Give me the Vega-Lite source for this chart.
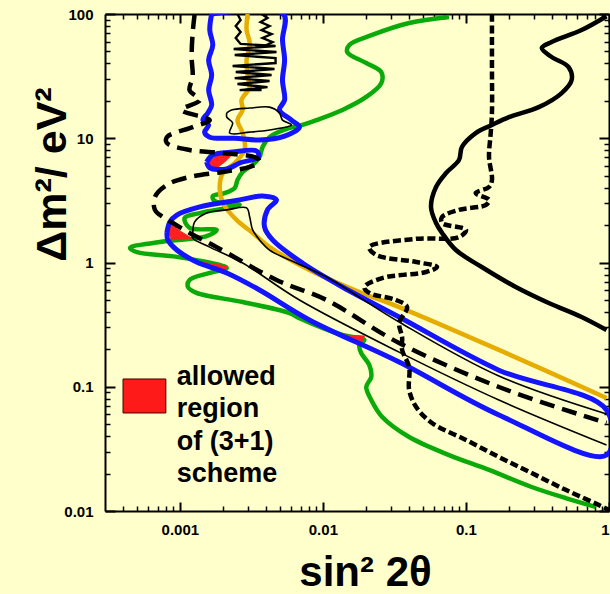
{
"$schema": "https://vega.github.io/schema/vega-lite/v6.json",
"width": 504, "height": 497,
"autosize": {"type": "none"},
"padding": {"left": 105, "top": 14, "right": 1, "bottom": 83},
"background": "#FFFFCC",
"config": {"view": {"stroke": null}, "axis": {"grid": false, "domainColor": "#000", "tickColor": "#000", "labelColor": "#000", "titleColor": "#000", "labelFont": "Liberation Sans", "titleFont": "Liberation Sans", "labelFontWeight": "bold", "titleFontWeight": "bold"}},
"resolve": {"axis": {"x": "independent", "y": "independent"}},
"data": {"values": [
{"k":"green","s":"g","i":1,"x":0.0761,"y":94.6},{"k":"green","s":"g","i":2,"x":0.0401,"y":84.6},{"k":"green","s":"g","i":3,"x":0.0221,"y":67.8},{"k":"green","s":"g","i":4,"x":0.0153,"y":56.3},{"k":"green","s":"g","i":5,"x":0.0148,"y":49.4},{"k":"green","s":"g","i":6,"x":0.0201,"y":40.3},{"k":"green","s":"g","i":7,"x":0.0256,"y":34.1},{"k":"green","s":"g","i":8,"x":0.0256,"y":27.8},{"k":"green","s":"g","i":9,"x":0.0201,"y":21.5},{"k":"green","s":"g","i":10,"x":0.0137,"y":16.9},{"k":"green","s":"g","i":11,"x":0.00901,"y":14.0},{"k":"green","s":"g","i":12,"x":0.00686,"y":12.6},{"k":"green","s":"g","i":13,"x":0.00585,"y":12.1},{"k":"green","s":"g","i":14,"x":0.00424,"y":10.2},{"k":"green","s":"g","i":15,"x":0.00379,"y":8.51},{"k":"green","s":"g","i":16,"x":0.00361,"y":7.07},{"k":"green","s":"g","i":17,"x":0.00323,"y":6.10},{"k":"green","s":"g","i":18,"x":0.00275,"y":5.35},{"k":"green","s":"g","i":19,"x":0.00253,"y":4.61},{"k":"green","s":"g","i":20,"x":0.00242,"y":3.98},{"k":"green","s":"g","i":21,"x":0.00206,"y":3.62},{"k":"green","s":"g","i":22,"x":0.0017,"y":3.43},{"k":"green","s":"g","i":23,"x":0.00175,"y":3.13},{"k":"green","s":"g","i":24,"x":0.00262,"y":2.91},{"k":"green","s":"g","i":25,"x":0.00138,"y":2.50},{"k":"green","s":"g","i":26,"x":0.00108,"y":2.28},{"k":"green","s":"g","i":27,"x":0.00117,"y":1.90},{"k":"green","s":"g","i":28,"x":0.00181,"y":1.83},{"k":"green","s":"g","i":29,"x":0.00154,"y":1.63},{"k":"green","s":"g","i":30,"x":0.000726,"y":1.46},{"k":"green","s":"g","i":31,"x":0.000449,"y":1.31},{"k":"green","s":"g","i":32,"x":0.000502,"y":1.21},{"k":"green","s":"g","i":33,"x":0.000953,"y":1.11},{"k":"green","s":"g","i":34,"x":0.0019,"y":0.955},{"k":"green","s":"g","i":35,"x":0.00213,"y":0.903},{"k":"green","s":"g","i":36,"x":0.00162,"y":0.824},{"k":"green","s":"g","i":37,"x":0.00117,"y":0.723},{"k":"green","s":"g","i":38,"x":0.00114,"y":0.635},{"k":"green","s":"g","i":39,"x":0.00131,"y":0.569},{"k":"green","s":"g","i":40,"x":0.00275,"y":0.481},{"k":"green","s":"g","i":41,"x":0.00585,"y":0.392},{"k":"green","s":"g","i":42,"x":0.00686,"y":0.357},{"k":"green","s":"g","i":43,"x":0.0137,"y":0.261},{"k":"green","s":"g","i":44,"x":0.0195,"y":0.238},{"k":"green","s":"g","i":45,"x":0.018,"y":0.217},{"k":"green","s":"g","i":46,"x":0.0185,"y":0.187},{"k":"green","s":"g","i":47,"x":0.0211,"y":0.150},{"k":"green","s":"g","i":48,"x":0.0218,"y":0.120},{"k":"green","s":"g","i":49,"x":0.0201,"y":0.0995},{"k":"green","s":"g","i":50,"x":0.0218,"y":0.0782},{"k":"green","s":"g","i":51,"x":0.026,"y":0.0571},{"k":"green","s":"g","i":52,"x":0.0401,"y":0.0394},{"k":"green","s":"g","i":53,"x":0.0762,"y":0.0282},{"k":"green","s":"g","i":54,"x":0.145,"y":0.0214},{"k":"green","s":"g","i":55,"x":0.288,"y":0.0156},{"k":"green","s":"g","i":56,"x":0.498,"y":0.0127},{"k":"green","s":"g","i":57,"x":0.805,"y":0.0108},

{"k":"orange","s":"o","i":1,"x":0.00298,"y":100},{"k":"orange","s":"o","i":2,"x":0.00293,"y":74.3},{"k":"orange","s":"o","i":3,"x":0.00308,"y":58.5},{"k":"orange","s":"o","i":4,"x":0.00293,"y":42.7},{"k":"orange","s":"o","i":5,"x":0.00298,"y":31.1},{"k":"orange","s":"o","i":6,"x":0.00308,"y":25.8},{"k":"orange","s":"o","i":7,"x":0.0027,"y":20.3},{"k":"orange","s":"o","i":8,"x":0.00275,"y":16.9},{"k":"orange","s":"o","i":9,"x":0.00253,"y":14.0},{"k":"orange","s":"o","i":10,"x":0.00275,"y":11.0},{"k":"orange","s":"o","i":11,"x":0.00284,"y":8.04},{"k":"orange","s":"o","i":12,"x":0.00242,"y":6.32},{"k":"orange","s":"o","i":13,"x":0.002,"y":5.25},{"k":"orange","s":"o","i":14,"x":0.0019,"y":4.05},{"k":"orange","s":"o","i":15,"x":0.002,"y":3.02},{"k":"orange","s":"o","i":16,"x":0.00249,"y":2.20},{"k":"orange","s":"o","i":17,"x":0.00323,"y":1.73},{"k":"orange","s":"o","i":18,"x":0.00424,"y":1.33},{"k":"orange","s":"o","i":19,"x":0.00805,"y":0.871},{"k":"orange","s":"o","i":20,"x":0.018,"y":0.579},{"k":"orange","s":"o","i":21,"x":0.0341,"y":0.438},{"k":"orange","s":"o","i":22,"x":0.170,"y":0.198},{"k":"orange","s":"o","i":23,"x":0.961,"y":0.0812},

{"k":"red","s":"r1","i":1,"x":0.00157,"y":6.32},{"k":"red","s":"r1","i":2,"x":0.00175,"y":7.07},{"k":"red","s":"r1","i":3,"x":0.00234,"y":7.47},{"k":"red","s":"r1","i":4,"x":0.00206,"y":6.44},{"k":"red","s":"r1","i":5,"x":0.00181,"y":5.77},{"k":"red","s":"r1","i":6,"x":0.00162,"y":5.98},
{"k":"red","s":"r2","i":1,"x":0.000825,"y":2.12},{"k":"red","s":"r2","i":2,"x":0.00103,"y":1.76},{"k":"red","s":"r2","i":3,"x":0.00121,"y":1.57},{"k":"red","s":"r2","i":4,"x":0.00088,"y":1.52},{"k":"red","s":"r2","i":5,"x":0.000825,"y":1.76},
{"k":"red","s":"r3","i":1,"x":0.00138,"y":1.01},{"k":"red","s":"r3","i":2,"x":0.00213,"y":0.937},{"k":"red","s":"r3","i":3,"x":0.00206,"y":0.839},{"k":"red","s":"r3","i":4,"x":0.00162,"y":0.920},
{"k":"red","s":"r4","i":1,"x":0.0137,"y":0.261},{"k":"red","s":"r4","i":2,"x":0.0195,"y":0.256},{"k":"red","s":"r4","i":3,"x":0.0185,"y":0.225},{"k":"red","s":"r4","i":4,"x":0.0158,"y":0.242},

{"k":"blue","s":"b1","i":1,"x":0.00167,"y":100},{"k":"blue","s":"b1","i":2,"x":0.00162,"y":74.3},{"k":"blue","s":"b1","i":3,"x":0.0017,"y":56.3},{"k":"blue","s":"b1","i":4,"x":0.00159,"y":42.7},{"k":"blue","s":"b1","i":5,"x":0.00167,"y":32.3},{"k":"blue","s":"b1","i":6,"x":0.00159,"y":24.4},{"k":"blue","s":"b1","i":7,"x":0.00167,"y":18.5},{"k":"blue","s":"b1","i":8,"x":0.00157,"y":16.0},{"k":"blue","s":"b1","i":9,"x":0.00145,"y":14.0},{"k":"blue","s":"b1","i":10,"x":0.00159,"y":12.8},{"k":"blue","s":"b1","i":11,"x":0.00149,"y":11.2},{"k":"blue","s":"b1","i":12,"x":0.00162,"y":10.2},{"k":"blue","s":"b1","i":13,"x":0.00242,"y":10.0},{"k":"blue","s":"b1","i":14,"x":0.00361,"y":9.68},{"k":"blue","s":"b1","i":15,"x":0.0054,"y":10.4},{"k":"blue","s":"b1","i":16,"x":0.00686,"y":12.3},{"k":"blue","s":"b1","i":17,"x":0.00603,"y":14.0},{"k":"blue","s":"b1","i":18,"x":0.00497,"y":16.9},{"k":"blue","s":"b1","i":19,"x":0.0054,"y":20.3},{"k":"blue","s":"b1","i":20,"x":0.00522,"y":29.4},{"k":"blue","s":"b1","i":21,"x":0.0054,"y":42.7},{"k":"blue","s":"b1","i":22,"x":0.00522,"y":61.8},{"k":"blue","s":"b1","i":23,"x":0.0053,"y":100},{"k":"blue","s":"b1","i":24,"x":0.00167,"y":100},
{"k":"blue","s":"b2","i":1,"x":0.00154,"y":6.44},{"k":"blue","s":"b2","i":2,"x":0.0017,"y":7.33},{"k":"blue","s":"b2","i":3,"x":0.00234,"y":7.75},{"k":"blue","s":"b2","i":4,"x":0.00344,"y":7.90},{"k":"blue","s":"b2","i":5,"x":0.00355,"y":7.07},{"k":"blue","s":"b2","i":6,"x":0.00262,"y":6.32},{"k":"blue","s":"b2","i":7,"x":0.00213,"y":5.66},{"k":"blue","s":"b2","i":8,"x":0.00162,"y":5.77},{"k":"blue","s":"b2","i":9,"x":0.00154,"y":6.44},
{"k":"blue","s":"b3","i":1,"x":0.000812,"y":1.73},{"k":"blue","s":"b3","i":2,"x":0.000852,"y":2.12},{"k":"blue","s":"b3","i":3,"x":0.000953,"y":2.41},{"k":"blue","s":"b3","i":4,"x":0.00138,"y":2.80},{"k":"blue","s":"b3","i":5,"x":0.00262,"y":3.19},{"k":"blue","s":"b3","i":6,"x":0.00379,"y":3.43},{"k":"blue","s":"b3","i":7,"x":0.00474,"y":3.19},{"k":"blue","s":"b3","i":8,"x":0.0041,"y":2.65},{"k":"blue","s":"b3","i":9,"x":0.00391,"y":1.93},{"k":"blue","s":"b3","i":10,"x":0.00445,"y":1.52},{"k":"blue","s":"b3","i":11,"x":0.00719,"y":0.991},{"k":"blue","s":"b3","i":12,"x":0.0137,"y":0.635},{"k":"blue","s":"b3","i":13,"x":0.0341,"y":0.364},{"k":"blue","s":"b3","i":14,"x":0.170,"y":0.136},{"k":"blue","s":"b3","i":15,"x":0.961,"y":0.0650},{"k":"blue","s":"b3","i":16,"x":0.961,"y":0.0282},{"k":"blue","s":"b3","i":17,"x":0.170,"y":0.0593},{"k":"blue","s":"b3","i":18,"x":0.0341,"y":0.158},{"k":"blue","s":"b3","i":19,"x":0.00805,"y":0.345},{"k":"blue","s":"b3","i":20,"x":0.00361,"y":0.601},{"k":"blue","s":"b3","i":21,"x":0.00213,"y":0.824},{"k":"blue","s":"b3","i":22,"x":0.00131,"y":1.01},{"k":"blue","s":"b3","i":23,"x":0.000953,"y":1.26},{"k":"blue","s":"b3","i":24,"x":0.000825,"y":1.52},{"k":"blue","s":"b3","i":25,"x":0.000812,"y":1.73},

{"k":"thin","s":"t1","i":1,"x":0.961,"y":0.0604},{"k":"thin","s":"t1","i":2,"x":0.170,"y":0.122},{"k":"thin","s":"t1","i":3,"x":0.0341,"y":0.332},{"k":"thin","s":"t1","i":4,"x":0.0106,"y":0.764},{"k":"thin","s":"t1","i":5,"x":0.00653,"y":0.991},{"k":"thin","s":"t1","i":6,"x":0.00424,"y":1.26},{"k":"thin","s":"t1","i":7,"x":0.00361,"y":1.52},{"k":"thin","s":"t1","i":8,"x":0.00323,"y":1.83},{"k":"thin","s":"t1","i":9,"x":0.00308,"y":2.32},{"k":"thin","s":"t1","i":10,"x":0.00293,"y":2.75},{"k":"thin","s":"t1","i":11,"x":0.00213,"y":2.65},{"k":"thin","s":"t1","i":12,"x":0.00154,"y":2.50},{"k":"thin","s":"t1","i":13,"x":0.00127,"y":2.12},{"k":"thin","s":"t1","i":14,"x":0.00123,"y":1.70},{"k":"thin","s":"t1","i":15,"x":0.00123,"y":1.57},{"k":"thin","s":"t1","i":16,"x":0.00162,"y":1.33},{"k":"thin","s":"t1","i":17,"x":0.00275,"y":0.991},{"k":"thin","s":"t1","i":18,"x":0.00686,"y":0.499},{"k":"thin","s":"t1","i":19,"x":0.0341,"y":0.190},{"k":"thin","s":"t1","i":20,"x":0.170,"y":0.0782},{"k":"thin","s":"t1","i":21,"x":0.961,"y":0.0340},
{"k":"thin","s":"t2","i":1,"x":0.00213,"y":16.0},{"k":"thin","s":"t2","i":2,"x":0.0023,"y":16.9},{"k":"thin","s":"t2","i":3,"x":0.00308,"y":17.5},{"k":"thin","s":"t2","i":4,"x":0.00424,"y":17.8},{"k":"thin","s":"t2","i":5,"x":0.00497,"y":16.0},{"k":"thin","s":"t2","i":6,"x":0.00522,"y":14.0},{"k":"thin","s":"t2","i":7,"x":0.00603,"y":12.8},{"k":"thin","s":"t2","i":8,"x":0.00424,"y":11.65},{"k":"thin","s":"t2","i":9,"x":0.00308,"y":11.2},{"k":"thin","s":"t2","i":10,"x":0.00223,"y":11.0},{"k":"thin","s":"t2","i":11,"x":0.00234,"y":13.3},{"k":"thin","s":"t2","i":12,"x":0.00213,"y":14.8},{"k":"thin","s":"t2","i":13,"x":0.00213,"y":16.0},

{"k":"scr","s":"c1","i":1,"x":0.00253,"y":100},{"k":"scr","s":"c1","i":2,"x":0.00266,"y":89.5},{"k":"scr","s":"c1","i":3,"x":0.00246,"y":80.1},{"k":"scr","s":"c1","i":4,"x":0.00266,"y":71.6},{"k":"scr","s":"c1","i":5,"x":0.00246,"y":64.1},{"k":"scr","s":"c1","i":6,"x":0.00266,"y":57.4},{"k":"scr","s":"c1","i":7,"x":0.00467,"y":55.3},{"k":"scr","s":"c1","i":8,"x":0.00238,"y":52.3},{"k":"scr","s":"c1","i":9,"x":0.00474,"y":49.4},{"k":"scr","s":"c1","i":10,"x":0.00242,"y":46.8},{"k":"scr","s":"c1","i":11,"x":0.00467,"y":44.2},{"k":"scr","s":"c1","i":12,"x":0.00467,"y":40.3},{"k":"scr","s":"c1","i":13,"x":0.00234,"y":38.2},{"k":"scr","s":"c1","i":14,"x":0.00459,"y":36.1},{"k":"scr","s":"c1","i":15,"x":0.00246,"y":34.1},{"k":"scr","s":"c1","i":16,"x":0.00438,"y":32.3},{"k":"scr","s":"c1","i":17,"x":0.00242,"y":30.5},{"k":"scr","s":"c1","i":18,"x":0.00424,"y":28.9},{"k":"scr","s":"c1","i":19,"x":0.00253,"y":27.3},{"k":"scr","s":"c1","i":20,"x":0.0041,"y":25.8},{"k":"scr","s":"c1","i":21,"x":0.00262,"y":24.4},{"k":"scr","s":"c1","i":22,"x":0.00373,"y":24.4},
{"k":"scr","s":"c2","i":1,"x":0.00373,"y":100},{"k":"scr","s":"c2","i":2,"x":0.0041,"y":92.9},{"k":"scr","s":"c2","i":3,"x":0.00367,"y":86.2},{"k":"scr","s":"c2","i":4,"x":0.00424,"y":80.1},{"k":"scr","s":"c2","i":5,"x":0.00373,"y":74.3},{"k":"scr","s":"c2","i":6,"x":0.00438,"y":69.0},{"k":"scr","s":"c2","i":7,"x":0.00379,"y":64.1},{"k":"scr","s":"c2","i":8,"x":0.00445,"y":59.5},{"k":"scr","s":"c2","i":9,"x":0.00391,"y":55.3},

{"k":"dash","s":"d","i":1,"x":0.00127,"y":100},{"k":"dash","s":"d","i":2,"x":0.00123,"y":70.3},{"k":"dash","s":"d","i":3,"x":0.00121,"y":45.1},{"k":"dash","s":"d","i":4,"x":0.00123,"y":31.1},{"k":"dash","s":"d","i":5,"x":0.00117,"y":24.4},{"k":"dash","s":"d","i":6,"x":0.00138,"y":20.3},{"k":"dash","s":"d","i":7,"x":0.00103,"y":16.9},{"k":"dash","s":"d","i":8,"x":0.00162,"y":14.0},{"k":"dash","s":"d","i":9,"x":0.00123,"y":12.3},{"k":"dash","s":"d","i":10,"x":0.000812,"y":10.2},{"k":"dash","s":"d","i":11,"x":0.000812,"y":9.16},{"k":"dash","s":"d","i":12,"x":0.00117,"y":8.04},{"k":"dash","s":"d","i":13,"x":0.002,"y":7.61},{"k":"dash","s":"d","i":14,"x":0.00344,"y":6.94},{"k":"dash","s":"d","i":15,"x":0.00361,"y":6.44},{"k":"dash","s":"d","i":16,"x":0.00308,"y":5.88},{"k":"dash","s":"d","i":17,"x":0.002,"y":5.35},{"k":"dash","s":"d","i":18,"x":0.00117,"y":4.88},{"k":"dash","s":"d","i":19,"x":0.000812,"y":4.21},{"k":"dash","s":"d","i":20,"x":0.00067,"y":3.37},{"k":"dash","s":"d","i":21,"x":0.00067,"y":2.65},{"k":"dash","s":"d","i":22,"x":0.000762,"y":2.32},{"k":"dash","s":"d","i":23,"x":0.000894,"y":2.08},{"k":"dash","s":"d","i":24,"x":0.00117,"y":1.73},{"k":"dash","s":"d","i":25,"x":0.00181,"y":1.33},{"k":"dash","s":"d","i":26,"x":0.00474,"y":0.723},{"k":"dash","s":"d","i":27,"x":0.0106,"y":0.499},{"k":"dash","s":"d","i":28,"x":0.0341,"y":0.225},{"k":"dash","s":"d","i":29,"x":0.170,"y":0.0995},{"k":"dash","s":"d","i":30,"x":0.961,"y":0.0511},

{"k":"sdash","s":"sd","i":1,"x":0.152,"y":100},{"k":"sdash","s":"sd","i":2,"x":0.152,"y":37.4},{"k":"sdash","s":"sd","i":3,"x":0.152,"y":16.0},{"k":"sdash","s":"sd","i":4,"x":0.149,"y":11.0},{"k":"sdash","s":"sd","i":5,"x":0.145,"y":7.07},{"k":"sdash","s":"sd","i":6,"x":0.152,"y":4.61},{"k":"sdash","s":"sd","i":7,"x":0.145,"y":4.05},{"k":"sdash","s":"sd","i":8,"x":0.117,"y":3.62},{"k":"sdash","s":"sd","i":9,"x":0.145,"y":3.19},{"k":"sdash","s":"sd","i":10,"x":0.138,"y":2.91},{"k":"sdash","s":"sd","i":11,"x":0.0894,"y":2.65},{"k":"sdash","s":"sd","i":12,"x":0.0681,"y":2.32},{"k":"sdash","s":"sd","i":13,"x":0.0681,"y":2.08},{"k":"sdash","s":"sd","i":14,"x":0.1,"y":1.83},{"k":"sdash","s":"sd","i":15,"x":0.0894,"y":1.60},{"k":"sdash","s":"sd","i":16,"x":0.0449,"y":1.55},{"k":"sdash","s":"sd","i":17,"x":0.0211,"y":1.33},{"k":"sdash","s":"sd","i":18,"x":0.0236,"y":1.15},{"k":"sdash","s":"sd","i":19,"x":0.0449,"y":1.01},{"k":"sdash","s":"sd","i":20,"x":0.0628,"y":0.920},{"k":"sdash","s":"sd","i":21,"x":0.0526,"y":0.839},{"k":"sdash","s":"sd","i":22,"x":0.026,"y":0.750},{"k":"sdash","s":"sd","i":23,"x":0.0195,"y":0.635},{"k":"sdash","s":"sd","i":24,"x":0.0211,"y":0.569},{"k":"sdash","s":"sd","i":25,"x":0.0325,"y":0.499},{"k":"sdash","s":"sd","i":26,"x":0.0388,"y":0.438},{"k":"sdash","s":"sd","i":27,"x":0.0341,"y":0.326},{"k":"sdash","s":"sd","i":28,"x":0.0358,"y":0.251},{"k":"sdash","s":"sd","i":29,"x":0.0358,"y":0.198},{"k":"sdash","s":"sd","i":30,"x":0.0401,"y":0.144},{"k":"sdash","s":"sd","i":31,"x":0.0401,"y":0.0942},{"k":"sdash","s":"sd","i":32,"x":0.0449,"y":0.0687},{"k":"sdash","s":"sd","i":33,"x":0.0579,"y":0.0511},{"k":"sdash","s":"sd","i":34,"x":0.1,"y":0.0373},{"k":"sdash","s":"sd","i":35,"x":0.170,"y":0.0272},{"k":"sdash","s":"sd","i":36,"x":0.288,"y":0.0202},{"k":"sdash","s":"sd","i":37,"x":0.498,"y":0.0148},{"k":"sdash","s":"sd","i":38,"x":0.845,"y":0.0112},{"k":"sdash","s":"sd","i":39,"x":1,"y":0.0102},

{"k":"solid","s":"so","i":1,"x":0.961,"y":96},{"k":"solid","s":"so","i":2,"x":0.643,"y":74.3},{"k":"solid","s":"so","i":3,"x":0.397,"y":59.5},{"k":"solid","s":"so","i":4,"x":0.339,"y":53.2},{"k":"solid","s":"so","i":5,"x":0.397,"y":45.1},{"k":"solid","s":"so","i":6,"x":0.522,"y":37.4},{"k":"solid","s":"so","i":7,"x":0.548,"y":29.4},{"k":"solid","s":"so","i":8,"x":0.467,"y":23.1},{"k":"solid","s":"so","i":9,"x":0.323,"y":17.8},{"k":"solid","s":"so","i":10,"x":0.2,"y":14.8},{"k":"solid","s":"so","i":11,"x":0.152,"y":12.8},{"k":"solid","s":"so","i":12,"x":0.117,"y":11.0},{"k":"solid","s":"so","i":13,"x":0.0938,"y":8.51},{"k":"solid","s":"so","i":14,"x":0.0894,"y":6.68},{"k":"solid","s":"so","i":15,"x":0.0726,"y":5.25},{"k":"solid","s":"so","i":16,"x":0.0618,"y":4.05},{"k":"solid","s":"so","i":17,"x":0.057,"y":2.80},{"k":"solid","s":"so","i":18,"x":0.0618,"y":2.08},{"k":"solid","s":"so","i":19,"x":0.0681,"y":1.73},{"k":"solid","s":"so","i":20,"x":0.0851,"y":1.26},{"k":"solid","s":"so","i":21,"x":0.129,"y":0.920},{"k":"solid","s":"so","i":22,"x":0.223,"y":0.635},{"k":"solid","s":"so","i":23,"x":0.379,"y":0.472},{"k":"solid","s":"so","i":24,"x":0.643,"y":0.364},{"k":"solid","s":"so","i":25,"x":0.961,"y":0.286},

{"k":"leg","s":"l","i":1,"x":0.000401,"x2":0.000799,"y":0.1155,"y2":0.0615},
{"k":"txt","s":"t","i":1,"x":0.000953,"y":0.1033,"t":"allowed"},{"k":"txt","s":"t","i":2,"x":0.000953,"y":0.0571,"t":"region"},{"k":"txt","s":"t","i":3,"x":0.000953,"y":0.031,"t":"of (3+1)"},{"k":"txt","s":"t","i":4,"x":0.000953,"y":0.0171,"t":"scheme"}
]},
"layer": [
{"transform": [{"filter": "datum.k=='green'"}],
 "mark": {"type": "line", "color": "#0aaa0a", "strokeWidth": 4.5, "interpolate": "catmull-rom", "clip": true},
 "encoding": {
  "x": {"field": "x", "type": "quantitative", "scale": {"type": "log", "domain": [0.0003, 1], "nice": false}, "axis": {"orient": "bottom", "values": [0.0004,0.0005,0.0006,0.0007,0.0008,0.0009,0.002,0.003,0.004,0.005,0.006,0.007,0.008,0.009,0.02,0.03,0.04,0.05,0.06,0.07,0.08,0.09,0.2,0.3,0.4,0.5,0.6,0.7,0.8,0.9], "tickSize": -5, "tickWidth": 1.5, "labels": false, "domain": false, "title": null}},
  "y": {"field": "y", "type": "quantitative", "scale": {"type": "log", "domain": [0.01, 100], "nice": false}, "axis": {"orient": "left", "values": [0.02,0.03,0.04,0.05,0.06,0.07,0.08,0.09,0.2,0.3,0.4,0.5,0.6,0.7,0.8,0.9,2,3,4,5,6,7,8,9,20,30,40,50,60,70,80,90], "tickSize": -5, "tickWidth": 1.5, "labels": false, "domain": false, "title": null}},
  "detail": {"field": "s"}, "order": {"field": "i", "type": "quantitative"}}},
{"transform": [{"filter": "datum.k=='orange'"}],
 "mark": {"type": "line", "color": "#E6AD00", "strokeWidth": 4.5, "interpolate": "catmull-rom", "clip": true},
 "encoding": {
  "x": {"field": "x", "type": "quantitative", "scale": {"type": "log", "domain": [0.0003, 1], "nice": false}, "axis": {"orient": "top", "values": [0.001,0.01,0.1,1], "tickSize": -9, "tickWidth": 2, "domainWidth": 2, "labels": false, "title": null}},
  "y": {"field": "y", "type": "quantitative", "scale": {"type": "log", "domain": [0.01, 100], "nice": false}, "axis": {"orient": "right", "values": [0.01,0.1,1,10,100], "tickSize": -10, "tickWidth": 2, "domainWidth": 2, "labels": false, "title": null}},
  "detail": {"field": "s"}, "order": {"field": "i", "type": "quantitative"}}},
{"transform": [{"filter": "datum.k=='red'"}],
 "mark": {"type": "line", "filled": true, "fill": "#FF2020", "stroke": "#FF2020", "strokeWidth": 1, "clip": true},
 "encoding": {
  "x": {"field": "x", "type": "quantitative", "scale": {"type": "log", "domain": [0.0003, 1], "nice": false}, "axis": {"orient": "top", "values": [0.0004,0.0005,0.0006,0.0007,0.0008,0.0009,0.002,0.003,0.004,0.005,0.006,0.007,0.008,0.009,0.02,0.03,0.04,0.05,0.06,0.07,0.08,0.09,0.2,0.3,0.4,0.5,0.6,0.7,0.8,0.9], "tickSize": -5, "tickWidth": 1.5, "labels": false, "domain": false, "title": null}},
  "y": {"field": "y", "type": "quantitative", "scale": {"type": "log", "domain": [0.01, 100], "nice": false}, "axis": {"orient": "right", "values": [0.02,0.03,0.04,0.05,0.06,0.07,0.08,0.09,0.2,0.3,0.4,0.5,0.6,0.7,0.8,0.9,2,3,4,5,6,7,8,9,20,30,40,50,60,70,80,90], "tickSize": -5, "tickWidth": 1.5, "labels": false, "domain": false, "title": null}},
  "detail": {"field": "s"}, "order": {"field": "i", "type": "quantitative"}}},
{"transform": [{"filter": "datum.k=='blue'"}],
 "mark": {"type": "line", "color": "#1414FF", "strokeWidth": 5, "interpolate": "catmull-rom", "clip": true},
 "encoding": {
  "x": {"field": "x", "type": "quantitative", "scale": {"type": "log", "domain": [0.0003, 1], "nice": false}, "axis": {"orient": "bottom", "values": [0.001,0.01,0.1,1], "format": "~g", "tickSize": -9, "tickWidth": 2, "domainWidth": 2, "labelFontSize": 15, "labelPadding": 20, "labelFlush": true, "labelOverlap": false, "labelBound": false, "title": "sin² 2θ", "titleFontSize": 42, "titleX": 260, "titleY": 74, "titleAlign": "center", "titleBaseline": "alphabetic"}},
  "y": {"field": "y", "type": "quantitative", "scale": {"type": "log", "domain": [0.01, 100], "nice": false}, "axis": {"orient": "left", "values": [0.01,0.1,1,10,100], "format": "~g", "tickSize": -10, "tickWidth": 2, "domainWidth": 2, "labelFontSize": 15, "labelPadding": 22, "labelFlush": false, "labelOverlap": false, "labelBound": false, "title": "Δm²/ eV²", "titleFontSize": 43, "titleAngle": -90, "titleX": -40, "titleY": 160, "titleAlign": "center", "titleBaseline": "alphabetic"}},
  "detail": {"field": "s"}, "order": {"field": "i", "type": "quantitative"}}},
{"transform": [{"filter": "datum.k=='thin'"}],
 "mark": {"type": "line", "color": "#000", "strokeWidth": 1.6, "interpolate": "catmull-rom", "clip": true},
 "encoding": {
  "x": {"field": "x", "type": "quantitative", "scale": {"type": "log", "domain": [0.0003, 1], "nice": false}, "axis": null},
  "y": {"field": "y", "type": "quantitative", "scale": {"type": "log", "domain": [0.01, 100], "nice": false}, "axis": null},
  "detail": {"field": "s"}, "order": {"field": "i", "type": "quantitative"}}},
{"transform": [{"filter": "datum.k=='scr'"}],
 "mark": {"type": "line", "color": "#000", "strokeWidth": 2.4, "clip": true},
 "encoding": {
  "x": {"field": "x", "type": "quantitative", "scale": {"type": "log", "domain": [0.0003, 1], "nice": false}, "axis": null},
  "y": {"field": "y", "type": "quantitative", "scale": {"type": "log", "domain": [0.01, 100], "nice": false}, "axis": null},
  "detail": {"field": "s"}, "order": {"field": "i", "type": "quantitative"}}},
{"transform": [{"filter": "datum.k=='dash'"}],
 "mark": {"type": "line", "color": "#000", "strokeWidth": 4.5, "strokeDash": [15, 8], "interpolate": "catmull-rom", "clip": true},
 "encoding": {
  "x": {"field": "x", "type": "quantitative", "scale": {"type": "log", "domain": [0.0003, 1], "nice": false}, "axis": null},
  "y": {"field": "y", "type": "quantitative", "scale": {"type": "log", "domain": [0.01, 100], "nice": false}, "axis": null},
  "detail": {"field": "s"}, "order": {"field": "i", "type": "quantitative"}}},
{"transform": [{"filter": "datum.k=='sdash'"}],
 "mark": {"type": "line", "color": "#000", "strokeWidth": 4.5, "strokeDash": [8, 3.5], "interpolate": "catmull-rom", "clip": true},
 "encoding": {
  "x": {"field": "x", "type": "quantitative", "scale": {"type": "log", "domain": [0.0003, 1], "nice": false}, "axis": null},
  "y": {"field": "y", "type": "quantitative", "scale": {"type": "log", "domain": [0.01, 100], "nice": false}, "axis": null},
  "detail": {"field": "s"}, "order": {"field": "i", "type": "quantitative"}}},
{"transform": [{"filter": "datum.k=='solid'"}],
 "mark": {"type": "line", "color": "#000", "strokeWidth": 4.5, "interpolate": "catmull-rom", "clip": true},
 "encoding": {
  "x": {"field": "x", "type": "quantitative", "scale": {"type": "log", "domain": [0.0003, 1], "nice": false}, "axis": null},
  "y": {"field": "y", "type": "quantitative", "scale": {"type": "log", "domain": [0.01, 100], "nice": false}, "axis": null},
  "detail": {"field": "s"}, "order": {"field": "i", "type": "quantitative"}}},
{"transform": [{"filter": "datum.k=='leg'"}],
 "mark": {"type": "rect", "fill": "#FF1A1A", "stroke": "#400000", "strokeWidth": 1},
 "encoding": {
  "x": {"field": "x", "type": "quantitative", "scale": {"type": "log", "domain": [0.0003, 1], "nice": false}, "axis": null},
  "x2": {"field": "x2"},
  "y": {"field": "y", "type": "quantitative", "scale": {"type": "log", "domain": [0.01, 100], "nice": false}, "axis": null},
  "y2": {"field": "y2"}}},
{"transform": [{"filter": "datum.k=='txt'"}],
 "mark": {"type": "text", "align": "left", "baseline": "alphabetic", "font": "Liberation Sans", "fontWeight": "bold", "fontSize": 27, "color": "#000"},
 "encoding": {
  "x": {"field": "x", "type": "quantitative", "scale": {"type": "log", "domain": [0.0003, 1], "nice": false}, "axis": null},
  "y": {"field": "y", "type": "quantitative", "scale": {"type": "log", "domain": [0.01, 100], "nice": false}, "axis": null},
  "text": {"field": "t"}}}
]
}
